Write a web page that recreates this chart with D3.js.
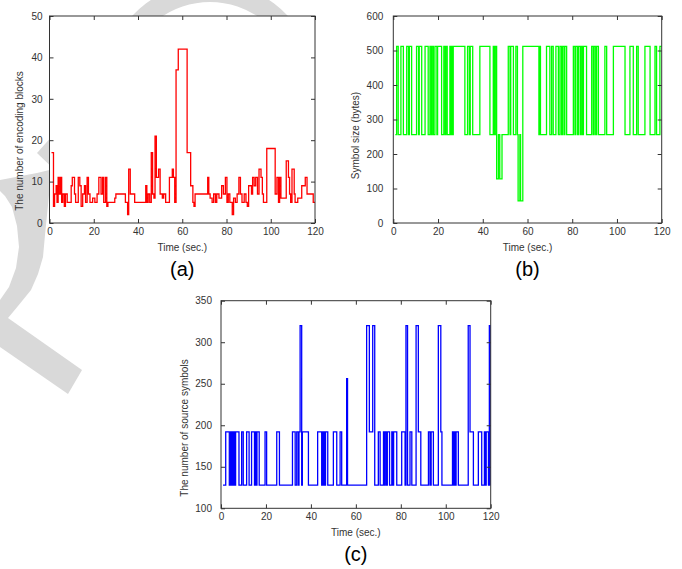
<!DOCTYPE html>
<html>
<head>
<meta charset="utf-8">
<script src="https://cdn.jsdelivr.net/npm/d3@7"></script>
<style>
  body { margin: 0; background: #fff; }
  svg { display: block; font-family: 'Liberation Sans', Arial, sans-serif; }
  .tick text { fill: #333; font-size: 10px; }
  .tick line { stroke: #333; }
</style>
</head>
<body>
<div id="chart"></div>
<script>
// step data: change times (sec.) and the level that starts there

// (a) number of encoding blocks
var timesA = [0.9, 1.8, 2.3, 3, 3.4, 3.9, 4.4, 5, 5.5, 6, 6.7, 7.2, 8, 9.8, 10.3, 11.3, 11.8, 13, 13.7, 14.3,
  15, 15.8, 16.3, 17, 17.6, 18.3, 19.5, 20.5, 21.5, 22.3, 23.3, 24, 24.5, 25.3, 25.9, 26.4, 29.5, 30, 34.3, 35.3,
  35.8, 36.5, 38.5, 43.5, 44, 44.6, 45.3, 46, 46.6, 47.2, 47.7, 48.3, 49.3, 50, 51, 51.6, 52.5, 54.2, 55.5, 56,
  56.6, 57.2, 58.2, 62.2, 63.8, 64.8, 65.3, 65.8, 71.5, 72, 72.6, 73.5, 74.2, 75, 75.6, 76.6, 77.8, 78.6, 79.5, 80.2,
  80.8, 81.5, 82.6, 83.2, 84, 84.8, 85.6, 86.3, 87, 88, 88.8, 89.4, 90, 91.3, 91.8, 92.5, 93.2, 94, 94.7, 95.6,
  96.2, 96.7, 98.2, 102, 102.8, 103.5, 104, 104.6, 107, 108, 108.5, 109, 109.6, 110.6, 111, 112.2, 114, 115.6, 116.4, 119.2, 120];
var valuesA = [17, 4, 7, 9, 5, 11, 7, 11, 5, 7, 4, 7, 5, 9, 11, 7, 5, 11, 9, 4,
  7, 9, 5, 11, 7, 5, 6, 5, 7, 11, 7, 11, 5, 11, 4, 5, 6, 7, 5, 2,
  13, 7, 5, 9, 5, 7, 5, 17, 7, 6, 21, 11, 13, 7, 6, 7, 5, 11, 13, 11,
  5, 37, 42, 17, 9, 5, 4, 7, 11, 7, 6, 5, 7, 5, 7, 6, 9, 7, 11, 5,
  7, 5, 2, 6, 5, 7, 11, 7, 5, 7, 5, 4, 9, 7, 11, 9, 11, 7, 13, 11,
  7, 5, 18, 7, 11, 5, 11, 6, 15, 11, 7, 5, 13, 7, 5, 6, 9, 11, 7, 5, 5];

// (b) symbol size in bytes
var timesB = [0.9, 1.5, 2.2, 3.4, 4.5, 6, 6.8, 7.2, 8.2, 10.4, 11.3, 11.6, 12.7, 14.2, 15.6, 16.4, 17, 17.3, 17.9, 18.6,
  19.5, 19.8, 21.6, 22.6, 23.2, 23.5, 24.1, 25.3, 25.8, 26.2, 26.6, 26.8, 32, 33.2, 34, 34.4, 35.5, 38.7, 43.2, 44.7,
  45.2, 45.6, 46.2, 47, 47.6, 48.6, 51.4, 52.2, 52.5, 53.7, 54.8, 55.5, 55.8, 56.6, 56.9, 57.9, 65.1, 65.5, 65.8, 68.5,
  70, 70.8, 71.5, 72.7, 73.8, 74.5, 75.2, 75.6, 76.3, 76.7, 77.5, 80.5, 81.2, 81.6, 82.4, 82.8, 83.6, 84, 84.6, 85,
  86.4, 88.7, 89.4, 89.8, 90.5, 90.9, 91.7, 94.6, 95.4, 98.4, 103.6, 105.8, 107.3, 108.8, 109.5, 112.5, 114.8, 117, 117.7, 119.2, 120];
var valuesB = [256, 512, 256, 512, 256, 512, 256, 512, 256, 512, 256, 512, 256, 512, 256, 512, 256, 512, 256, 512,
  256, 512, 256, 512, 256, 512, 256, 512, 256, 512, 256, 512, 256, 512, 256, 512, 256, 512, 256, 512,
  256, 512, 128, 256, 128, 256, 512, 256, 512, 256, 512, 256, 64, 256, 64, 512, 256, 512, 256, 512,
  256, 512, 256, 512, 256, 512, 256, 512, 256, 512, 256, 512, 256, 512, 256, 512, 256, 512, 256, 512,
  256, 512, 256, 512, 256, 512, 256, 512, 256, 512, 256, 512, 256, 512, 256, 512, 256, 512, 256, 512, 512];

// (c) number of source symbols
var timesC = [0.9, 2.1, 3.7, 4.3, 4.8, 5.1, 5.5, 5.7, 6, 6.5, 8, 9.2, 9.9, 11.4, 12.5, 13.6, 14.9, 15.2, 15.7, 16,
  17, 19.6, 20.3, 24.8, 26, 31.8, 33, 33.7, 34.4, 34.7, 35.2, 35.9, 36.2, 38.9, 43, 44.8, 45.1, 45.5, 45.8, 46.2,
  46.5, 47.5, 50, 51.5, 53, 53.7, 55.9, 56.3, 64.8, 66, 67.5, 68.4, 70, 70.8, 72.3, 72.8, 73.1, 73.7, 74, 75,
  76, 76.5, 76.8, 78.2, 80.4, 81.9, 82.3, 83, 84.1, 84.9, 86.8, 87.8, 88.9, 92.3, 93, 93.5, 94.5, 96.7, 97.8, 98.3,
  103, 103.5, 103.8, 104.2, 104.6, 105.6, 110, 110.8, 112.3, 114.5, 116, 117.2, 117.6, 118, 119, 119.4, 119.8, 120];
var valuesC = [128, 192, 128, 192, 128, 192, 128, 192, 128, 192, 128, 192, 128, 192, 128, 192, 128, 192, 128, 192,
  128, 192, 128, 192, 128, 192, 128, 192, 128, 192, 320, 128, 192, 128, 192, 128, 192, 128, 192, 128,
  192, 128, 192, 128, 192, 128, 256, 128, 320, 192, 320, 128, 192, 128, 192, 128, 192, 128, 192, 128,
  192, 128, 192, 128, 192, 128, 320, 128, 192, 128, 320, 192, 128, 192, 128, 192, 128, 320, 192, 128,
  192, 128, 192, 128, 192, 128, 320, 192, 128, 192, 128, 192, 128, 192, 128, 320, 128, 128];

var timeTicks = [0, 20, 40, 60, 80, 100, 120];
var ticksA = [0, 10, 20, 30, 40, 50];
var ticksB = [0, 100, 200, 300, 400, 500, 600];
var ticksC = [100, 150, 200, 250, 300, 350];

var width = 682,
  height = 569;

var svg = d3
  .select('#chart')
  .append('svg')
  .attr('width', width)
  .attr('height', height);

// light gray watermark behind everything (the plot areas cover most of it)
var mark = svg.append('g').attr('fill', '#d9d9d9');
mark
  .append('path')
  .attr('transform', 'translate(210,88)')
  .attr('d', d3.arc().innerRadius(86).outerRadius(106).startAngle(-1.3).endAngle(1.3)());
mark
  .append('path')
  .attr('d', d3.line()([[37, 153], [49.5, 139], [49.5, 165]]) + 'Z');
mark
  .append('path')
  .attr(
    'd',
    d3.line()([
      [0, 180], [37, 173], [49.5, 170], [49.5, 190], [47, 215], [45, 235], [43, 257], [38, 274],
      [31, 290], [18, 306], [8, 318], [82, 370], [68, 394], [0, 347], [0, 300], [9, 287],
      [16, 268], [19, 247], [17, 226], [12, 207], [5, 196], [0, 191],
    ]) + 'Z'
  );

var panels = [
  {
    id: 'a', left: 49.5, right: 315, top: 16, bottom: 223,
    yDomain: [0, 50], yTicks: ticksA, times: timesA, values: valuesA,
    color: '#ff0000', ylabel: 'The number of encoding blocks',
    ylabelX: 22.5, ylabelY: 141, pad: 7,
  },
  {
    id: 'b', left: 393.3, right: 661.7, top: 16, bottom: 223,
    yDomain: [0, 600], yTicks: ticksB, times: timesB, values: valuesB,
    color: '#00ff00', ylabel: 'Symbol size (bytes)',
    ylabelX: 358.5, ylabelY: 135.5, pad: 10,
  },
  {
    id: 'c', left: 221, right: 490.7, top: 300.7, bottom: 508.3,
    yDomain: [100, 350], yTicks: ticksC, times: timesC, values: valuesC,
    color: '#0000ff', ylabel: 'The number of source symbols',
    ylabelX: 187.5, ylabelY: 428, pad: 9,
  },
];

panels.forEach(drawPanel);

function drawPanel(p) {
  var xScale = d3.scaleLinear().domain([0, 120]).range([p.left, p.right]);
  var yScale = d3.scaleLinear().domain(p.yDomain).range([p.bottom, p.top]);

  var g = svg.append('g');

  // white plot area covers the watermark
  g.append('rect')
    .attr('x', p.left)
    .attr('y', p.top)
    .attr('width', p.right - p.left)
    .attr('height', p.bottom - p.top)
    .attr('fill', '#fff');

  g.append('clipPath')
    .attr('id', 'clip-' + p.id)
    .append('rect')
    .attr('x', p.left)
    .attr('y', p.top - 1)
    .attr('width', p.right - p.left)
    .attr('height', p.bottom - p.top + 2);

  // the step line
  var points = p.times.map(function (t, i) {
    return [t, p.values[i]];
  });
  var line = d3
    .line()
    .curve(d3.curveStepAfter)
    .x(function (d) {
      return xScale(d[0]);
    })
    .y(function (d) {
      return yScale(d[1]);
    });
  g.append('path')
    .attr('d', line(points))
    .attr('clip-path', 'url(#clip-' + p.id + ')')
    .attr('fill', 'none')
    .attr('stroke', p.color)
    .attr('stroke-width', 1.3)
    .attr('stroke-linejoin', 'miter');

  // axes, ticks pointing inward on all four sides
  var bottom = g
    .append('g')
    .attr('transform', 'translate(0,' + p.bottom + ')')
    .call(d3.axisBottom(xScale).tickValues(timeTicks).tickSizeInner(-4).tickSizeOuter(0).tickPadding(4.5));
  var left = g
    .append('g')
    .attr('transform', 'translate(' + p.left + ',0)')
    .call(d3.axisLeft(yScale).tickValues(p.yTicks).tickSizeInner(-4).tickSizeOuter(0).tickPadding(p.pad));
  var top = g
    .append('g')
    .attr('transform', 'translate(0,' + p.top + ')')
    .call(d3.axisTop(xScale).tickValues(timeTicks).tickSizeInner(-4).tickSizeOuter(0).tickFormat(''));
  var right = g
    .append('g')
    .attr('transform', 'translate(' + p.right + ',0)')
    .call(d3.axisRight(yScale).tickValues(p.yTicks).tickSizeInner(-4).tickSizeOuter(0).tickFormat(''));
  [bottom, left, top, right].forEach(function (a) {
    a.select('.domain').remove();
    a.attr('font-family', null).attr('font-size', null);
  });

  // frame
  g.append('rect')
    .attr('x', p.left)
    .attr('y', p.top)
    .attr('width', p.right - p.left)
    .attr('height', p.bottom - p.top)
    .attr('fill', 'none')
    .attr('stroke', '#333')
    .attr('stroke-width', 1);

  // axis titles
  g.append('text')
    .attr('x', (p.left + p.right) / 2)
    .attr('y', p.bottom + 28)
    .attr('text-anchor', 'middle')
    .style('font-size', '10px')
    .attr('fill', '#333')
    .text('Time (sec.)');

  g.append('text')
    .attr('transform', 'translate(' + p.ylabelX + ',' + p.ylabelY + ') rotate(-90)')
    .attr('text-anchor', 'middle')
    .style('font-size', '10px')
    .attr('fill', '#333')
    .text(p.ylabel);

  // panel letter
  g.append('text')
    .attr('x', (p.left + p.right) / 2)
    .attr('y', p.bottom + 53)
    .attr('text-anchor', 'middle')
    .style('font-size', '20px')
    .attr('fill', '#000')
    .text('(' + p.id + ')');
}
</script>
</body>
</html>
